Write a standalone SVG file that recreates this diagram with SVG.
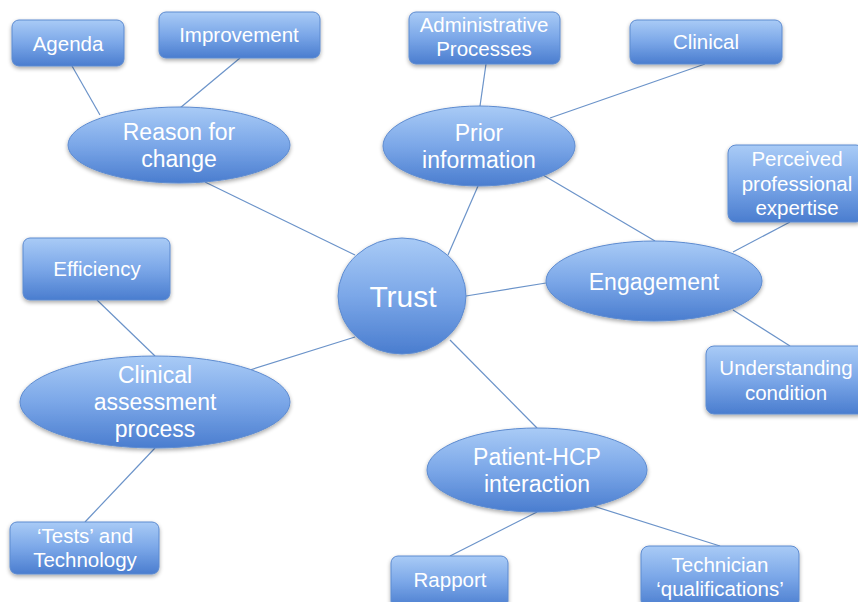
<svg xmlns="http://www.w3.org/2000/svg" width="858" height="602" viewBox="0 0 858 602">
<defs>
<linearGradient id="g" x1="0" y1="0" x2="0" y2="1">
<stop offset="0" stop-color="#a9cbf6"/>
<stop offset="0.5" stop-color="#7ba7e8"/>
<stop offset="1" stop-color="#4a7dcf"/>
</linearGradient>
<filter id="sh" x="-10%" y="-10%" width="120%" height="130%">
<feGaussianBlur in="SourceAlpha" stdDeviation="2"/>
<feOffset dx="0" dy="2" result="b"/>
<feComponentTransfer><feFuncA type="linear" slope="0.35"/></feComponentTransfer>
<feMerge><feMergeNode/><feMergeNode in="SourceGraphic"/></feMerge>
</filter>
</defs>
<style>
.n{fill:url(#g);stroke:#5d8bd0;stroke-width:1;filter:url(#sh)}
.t{fill:#fff;font-family:"Liberation Sans",Arial,sans-serif;text-anchor:middle}
.s{font-size:20.5px}
.m{font-size:23px}
.c{stroke:#6b93c9;stroke-width:1.2;fill:none}
</style>
<rect width="858" height="602" fill="#fff"/>
<g id="connectors">
<line class="c" x1="72" y1="66" x2="100" y2="115"/>
<line class="c" x1="240" y1="58" x2="180" y2="108"/>
<line class="c" x1="205" y1="182" x2="355" y2="255"/>
<line class="c" x1="486" y1="64" x2="480" y2="106"/>
<line class="c" x1="705" y1="64" x2="550" y2="118"/>
<line class="c" x1="478" y1="186" x2="448" y2="255"/>
<line class="c" x1="543" y1="175" x2="655" y2="241"/>
<line class="c" x1="546" y1="283" x2="466" y2="296"/>
<line class="c" x1="790" y1="222" x2="733" y2="252"/>
<line class="c" x1="733" y1="310" x2="790" y2="346"/>
<line class="c" x1="97" y1="300" x2="155" y2="356"/>
<line class="c" x1="250" y1="370" x2="355" y2="337"/>
<line class="c" x1="155" y1="448" x2="85" y2="522"/>
<line class="c" x1="450" y1="340" x2="537" y2="428"/>
<line class="c" x1="537" y1="512" x2="450" y2="556"/>
<line class="c" x1="590" y1="505" x2="720" y2="546"/>
</g>
<g id="agenda"><rect class="n" x="12" y="20" width="112" height="46" rx="7"/><text class="t s" x="68" y="51">Agenda</text></g>
<g id="improvement"><rect class="n" x="159" y="12" width="161" height="46" rx="7"/><text class="t s" x="239" y="42">Improvement</text></g>
<g id="admin"><rect class="n" x="409" y="12" width="151" height="52" rx="7"/><text class="t s" x="484" y="32">Administrative</text><text class="t s" x="484" y="56">Processes</text></g>
<g id="clinical"><rect class="n" x="630" y="20" width="152" height="44" rx="7"/><text class="t s" x="706" y="49">Clinical</text></g>
<g id="perceived"><rect class="n" x="728" y="145" width="136" height="77" rx="8"/><text class="t s" x="797" y="166">Perceived</text><text class="t s" x="797" y="191">professional</text><text class="t s" x="797" y="215">expertise</text></g>
<g id="efficiency"><rect class="n" x="23" y="238" width="147" height="62" rx="7"/><text class="t s" x="97" y="276">Efficiency</text></g>
<g id="understanding"><rect class="n" x="706" y="346" width="160" height="68" rx="8"/><text class="t s" x="786" y="375">Understanding</text><text class="t s" x="786" y="400">condition</text></g>
<g id="tests"><rect class="n" x="10" y="522" width="149" height="52" rx="7"/><text class="t s" x="85" y="543">‘Tests’ and</text><text class="t s" x="85" y="567">Technology</text></g>
<g id="rapport"><rect class="n" x="391" y="556" width="117" height="52" rx="7"/><text class="t s" x="450" y="587">Rapport</text></g>
<g id="technician"><rect class="n" x="641" y="546" width="158" height="62" rx="8"/><text class="t s" x="720" y="572">Technician</text><text class="t s" x="720" y="596">‘qualifications’</text></g>
<g id="reason"><ellipse class="n" cx="179" cy="145" rx="111" ry="38"/><text class="t m" x="179" y="140">Reason for</text><text class="t m" x="179" y="167">change</text></g>
<g id="prior"><ellipse class="n" cx="479" cy="146" rx="96" ry="40"/><text class="t m" x="479" y="141">Prior</text><text class="t m" x="479" y="168">information</text></g>
<g id="trust"><ellipse class="n" cx="402" cy="296" rx="64" ry="58"/><text class="t" style="font-size:30px" x="403" y="307">Trust</text></g>
<g id="engagement"><ellipse class="n" cx="654" cy="281" rx="108" ry="40"/><text class="t m" x="654" y="290">Engagement</text></g>
<g id="assessment"><ellipse class="n" cx="155" cy="402" rx="135" ry="46"/><text class="t m" x="155" y="383">Clinical</text><text class="t m" x="155" y="410">assessment</text><text class="t m" x="155" y="437">process</text></g>
<g id="patient"><ellipse class="n" cx="537" cy="470" rx="110" ry="42"/><text class="t m" x="537" y="465">Patient-HCP</text><text class="t m" x="537" y="492">interaction</text></g>
</svg>
